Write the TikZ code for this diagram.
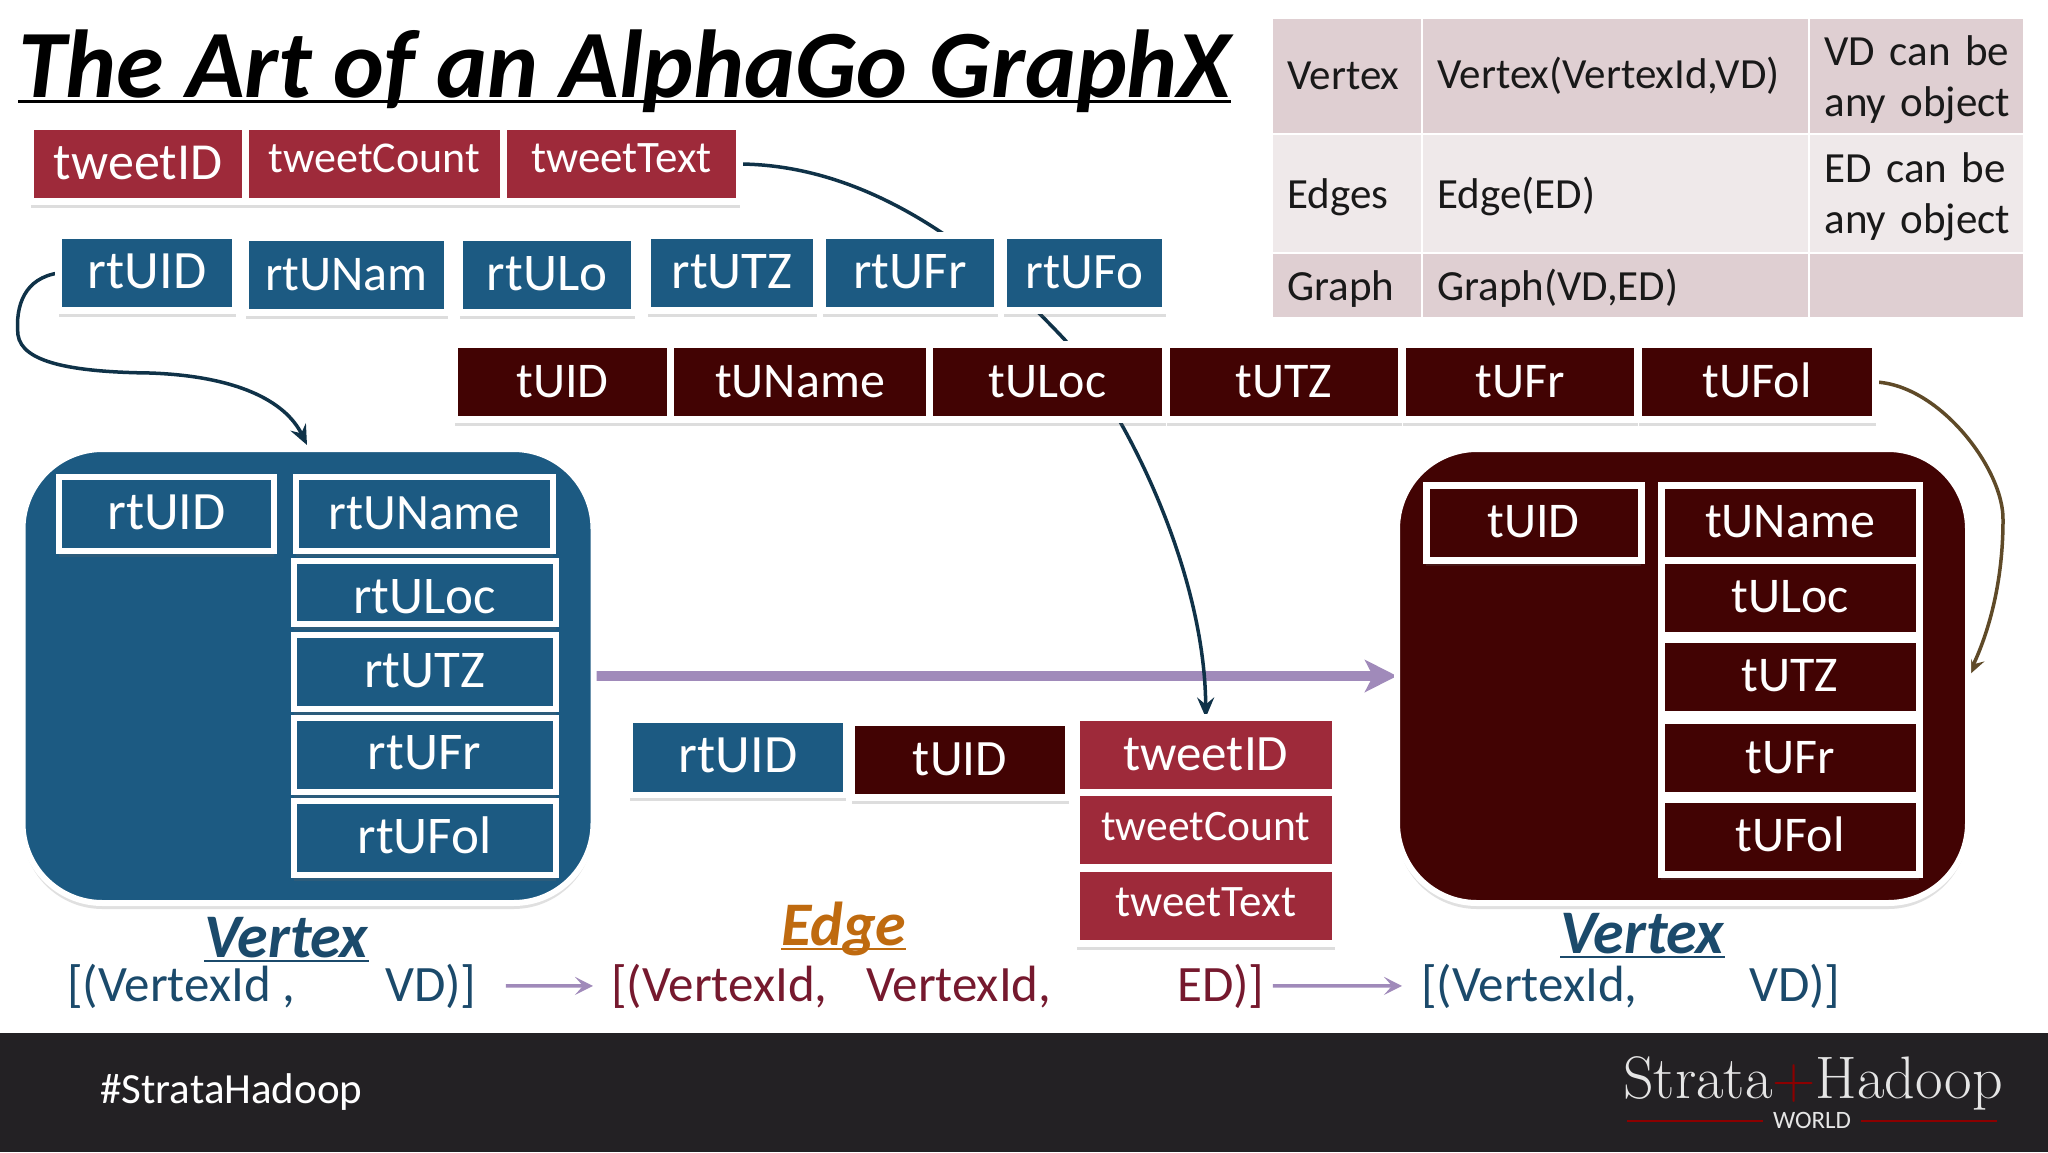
\documentclass[tikz,border=0pt]{standalone}
\usepackage{fontspec}
\setmainfont{Carlito}
\newfontfamily\logofont{Latin Modern Roman}
\usetikzlibrary{positioning,arrows.meta,backgrounds,shadows}
\definecolor{tweetred}{HTML}{9E2A3A}
\definecolor{rtblue}{HTML}{1C5A82}
\definecolor{tmaroon}{HTML}{420303}
\definecolor{rowdark}{HTML}{DFCFD2}
\definecolor{rowlight}{HTML}{EFE9EA}
\definecolor{lilac}{HTML}{A08ABA}
\definecolor{navyline}{HTML}{0F3248}
\definecolor{brownline}{HTML}{5F4A28}
\definecolor{navytext}{HTML}{1B4A6B}
\definecolor{winetext}{HTML}{76192E}
\definecolor{edgeorange}{HTML}{BF6A0F}
\definecolor{footerbar}{HTML}{232124}
\newcommand{\rowtext}[1]{\raisebox{-3pt}[.8em][.25em]{#1}}
\begin{document}
\begin{tikzpicture}[x=1pt, y=-1pt, node distance=0pt,
    fs/.style = {font=\fontsize{#1}{#1}\selectfont},
    cell/.style = {draw=white, line width=7pt, text=white, outer sep=0pt, inner sep=0pt, minimum height=75pt, fs=50, text height=30pt, text depth=0pt,
        drop shadow={shadow xshift=0pt, shadow yshift=-6pt, opacity=.22, fill=black!60}},
    tweetcell/.style = {cell, fill=tweetred},
    rtcell/.style = {cell, fill=rtblue},
    tcell/.style = {cell, fill=tmaroon},
    blob/.style = {draw=white, line width=6pt, rounded corners=80pt, minimum width=571pt, minimum height=454pt, outer sep=0pt,
        drop shadow={shadow xshift=0pt, shadow yshift=-6pt, opacity=.2, fill=black!60}},
    tablecell/.style = {draw=white, line width=2.5pt, outer sep=0pt, inner xsep=15.5pt, inner ysep=0pt, align=left, anchor=west, fs=43, text=black!90},
    heading/.style = {inner sep=0pt, anchor=base west, font=\fontsize{62}{62}\selectfont\bfseries\itshape},
    pairtext/.style = {inner sep=0pt, anchor=base west, fs=51},
    thinarrow/.style = {draw=lilac, line width=3.5pt, -{Stealth[length=18pt, width=18pt, inset=8pt]}},
    flowline/.style = {draw=navyline, line width=3.5pt, -{Stealth[length=20pt, width=17pt, inset=7pt]}}]
    \useasboundingbox (0,0) rectangle (2048,1152);
    \begin{scope}[on background layer]
        \fill[white] (0,0) rectangle (2048,1152);
    \end{scope}
    \fill[footerbar] (0,1033) rectangle (2048,1152);
    % title
    \node[inner sep=0pt, anchor=base west, font=\fontsize{96.5}{96.5}\selectfont\bfseries\itshape] (title) at (18,97) {The Art of an AlphaGo GraphX};
    \draw[line width=3pt] ([yshift=-4pt]title.base west) -- ([yshift=-4pt]title.base east);
    % table
    \node[tablecell, fill=rowdark, minimum width=150pt, minimum height=116pt, text width=119pt] (vertexname) at (1272,76) {Vertex};
    \node[tablecell, fill=rowdark, minimum width=387pt, minimum height=116pt, text width=356pt, right=0pt of vertexname] (vertexsig) {Vertex(VertexId,VD)};
    \node[tablecell, fill=rowdark, minimum width=215pt, minimum height=116pt, text width=184pt, font=\fontsize{43}{51}\selectfont, right=0pt of vertexsig] (vertexnote) {\rowtext{VD can be}\\\rowtext{any object}};
    \node[tablecell, fill=rowlight, minimum width=150pt, minimum height=119pt, text width=119pt] (edgename) at (1272,193.5) {\rowtext{Edges}};
    \node[tablecell, fill=rowlight, minimum width=387pt, minimum height=119pt, text width=356pt, right=0pt of edgename] (edgesig) {\rowtext{Edge(ED)}};
    \node[tablecell, fill=rowlight, minimum width=215pt, minimum height=119pt, text width=184pt, font=\fontsize{43}{51}\selectfont, right=0pt of edgesig] (edgenote) {\rowtext{ED can be}\\\rowtext{any object}};
    \node[tablecell, fill=rowdark, minimum width=150pt, minimum height=65pt, text width=119pt] (graphname) at (1272,285.5) {\rowtext{Graph}};
    \node[tablecell, fill=rowdark, minimum width=387pt, minimum height=65pt, text width=356pt, right=0pt of graphname] (graphsig) {\rowtext{Graph(VD,ED)}};
    \node[tablecell, fill=rowdark, minimum width=215pt, minimum height=65pt, text width=184pt, right=0pt of graphsig] (graphnote) {};
    % tweet row
    \node[tweetcell, minimum width=215pt, fs=52] (tweetID) at (138,164) {tweetID};
    \node[tweetcell, minimum width=258pt, fs=44, right=0pt of tweetID] (tweetCount) {\raisebox{7pt}{tweetCount}};
    \node[tweetcell, minimum width=236pt, fs=45, right=0pt of tweetCount] (tweetText) {\raisebox{7pt}{tweetText}};
    % retweet user row
    \node[rtcell, minimum width=177pt, fs=54] (rtUID) at (147,273) {rtUID};
    \node[rtcell, minimum width=202pt, right=10pt of rtUID, yshift=-2pt] (rtUNam) {rtUNam};
    \node[rtcell, minimum width=175pt, fs=53, right=12pt of rtUNam] (rtULo) {rtULo};
    \node[rtcell, minimum width=169pt, fs=53, right=13pt of rtULo, yshift=2pt] (rtUTZ) {rtUTZ};
    \node[rtcell, minimum width=175pt, fs=53, right=6pt of rtUTZ] (rtUFr) {rtUFr};
    \node[rtcell, minimum width=162pt, fs=51, right=6pt of rtUFr] (rtUFo) {rtUFo};
    % tweet user row
    \node[tcell, minimum width=216pt] (tUID) at (562.5,382) {tUID};
    \node[tcell, minimum width=259pt, right=0pt of tUID] (tUName) {tUName};
    \node[tcell, minimum width=236pt, right=0pt of tUName] (tULoc) {tULoc};
    \node[tcell, minimum width=235pt, right=1pt of tULoc] (tUTZ) {tUTZ};
    \node[tcell, minimum width=235pt, right=1pt of tUTZ] (tUFr) {tUFr};
    \node[tcell, minimum width=237pt, right=1pt of tUFr] (tUFol) {tUFol};
    % left vertex
    \node[blob, fill=rtblue] (vertexL) at (308,676) {};
    \node[rtcell, line width=6pt, minimum width=215pt, minimum height=74pt, fs=54] (vL1) at (166.5,514) {rtUID};
    \node[rtcell, line width=6pt, minimum width=257pt, minimum height=74pt, fs=51] (vL2) at (424.5,514) {rtUName};
    \node[rtcell, line width=6pt, minimum width=262pt, minimum height=63.5pt, fs=53, below=9.5pt of vL2] (vL3) {\raisebox{-6pt}{rtULoc}};
    \node[rtcell, line width=6pt, minimum width=262pt, minimum height=74pt, fs=53, below=11pt of vL3] (vL4) {rtUTZ};
    \node[rtcell, line width=6pt, minimum width=262pt, minimum height=74.5pt, fs=53, below=8.5pt of vL4] (vL5) {rtUFr};
    \node[rtcell, line width=6pt, minimum width=262pt, minimum height=74pt, fs=53, below=9pt of vL5] (vL6) {rtUFol};
    % right vertex
    \node[blob, fill=tmaroon] (vertexR) at (1682.5,676) {};
    \node[tcell, minimum width=215pt] (vR1) at (1533.5,522.5) {tUID};
    \node[tcell, minimum width=258pt] (vR2) at (1790,522.5) {tUName};
    \node[tcell, minimum width=258pt, below=0pt of vR2] (vR3) {tULoc};
    \node[tcell, minimum width=258pt, below=4pt of vR3] (vR4) {tUTZ};
    \node[tcell, minimum width=258pt, below=6.5pt of vR4] (vR5) {tUFr};
    \node[tcell, minimum width=258pt, below=3.5pt of vR5] (vR6) {tUFol};
    % edge
    \node[rtcell, line width=6pt, minimum width=216pt, fs=54] (eSrc) at (738,757.5) {rtUID};
    \node[tcell, minimum width=217pt, fs=51] (eDst) at (960,760) {tUID};
    \node[tweetcell, minimum width=258.5pt, fs=51] (eID) at (1205.75,755) {tweetID};
    \node[tweetcell, minimum width=258.5pt, fs=43.5, below=0pt of eID] (eCount) {\raisebox{5pt}{tweetCount}};
    \node[tweetcell, minimum width=258.5pt, fs=45, below=1pt of eCount] (eText) {\raisebox{5pt}{tweetText}};
    % labels under the pictures
    \node[heading, text=navytext] (headL) at (204,957) {Vertex};
    \node[heading, text=edgeorange] (headM) at (781,945) {Edge};
    \node[heading, text=navytext] (headR) at (1560,953) {Vertex};
    \draw[navytext, line width=2pt] ([yshift=-4pt]headL.base west) -- ([yshift=-4pt]headL.base east);
    \draw[edgeorange, line width=2pt] ([yshift=-4pt]headM.base west) -- ([yshift=-4pt]headM.base east);
    \draw[navytext, line width=2pt] ([yshift=-4pt]headR.base west) -- ([yshift=-4pt]headR.base east);
    \node[pairtext, text=navytext] (pairL) at (67,1001) {[(VertexId ,};
    \node[pairtext, text=navytext] (dataL) at (385,1001) {VD)]};
    \node[pairtext, text=winetext] (pairM) at (611,1001) {[(VertexId,};
    \node[pairtext, text=winetext] (pairN) at (866,1001) {VertexId,};
    \node[pairtext, text=winetext] (dataM) at (1177,1001) {ED)]};
    \node[pairtext, text=navytext] (pairR) at (1421,1001) {[(VertexId,};
    \node[pairtext, text=navytext] (dataR) at (1749,1001) {VD)]};
    \draw[thinarrow, shorten <=29pt, shorten >=18pt] (dataL.east) -- (pairM.west);
    \draw[thinarrow, shorten <=8pt, shorten >=19pt] (dataM.east) -- (pairR.west);
    % footer
    \node[inner sep=0pt, anchor=base west, text=white, fs=43] (hashtag) at (100,1103) {\#StrataHadoop};
    \node[inner sep=0pt, anchor=base west, text=white!90!black, font=\fontsize{60}{60}\logofont] (logo) at (1623,1098) {Strata{\color{red!55!black}+}Hadoop};
    \node[inner sep=0pt, anchor=base, text=white!90!black, fs=25] (world) at (1812,1128) {WORLD};
    \draw[red!55!black, line width=1.5pt] ([xshift=-10pt,yshift=7pt]world.base west) -- ([xshift=-146pt,yshift=7pt]world.base west);
    \draw[red!55!black, line width=1.5pt] ([xshift=10pt,yshift=7pt]world.base east) -- ([xshift=146pt,yshift=7pt]world.base east);
    % connectors behind the boxes
    \begin{scope}[on background layer]
        \draw[draw=lilac, line width=10pt, -{Stealth[length=32pt, width=32pt, inset=8pt]}] (vertexL) -- (vertexR);
        \draw[flowline] (rtUID.west) .. controls (25,278) and (15,305) .. (18,335) .. controls (22,362) and (70,372) .. (150,373) .. controls (235,376) and (285,400) .. (307,445);
        \draw[flowline] (tweetText.east) .. controls (880,165) and (995,265) .. (1065,340) .. controls (1135,425) and (1205,580) .. (eID.north);
        \draw[flowline, draw=brownline] (tUFol.east) .. controls (1940,385) and (2004,470) .. (2003,520) .. controls (2003,590) and (1985,640) .. (vertexR.east);
    \end{scope}
\end{tikzpicture}
\end{document}
